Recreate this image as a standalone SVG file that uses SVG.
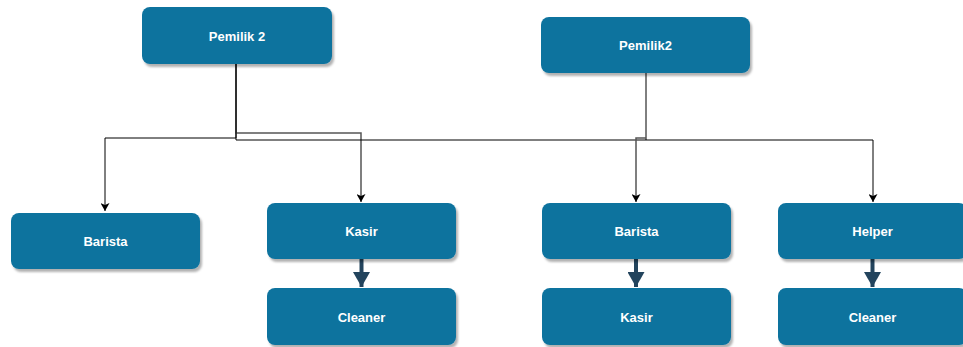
<svg xmlns="http://www.w3.org/2000/svg" width="963" height="347" viewBox="0 0 963 347">
<style>
.box{fill:#10739E;filter:url(#sh)}
.lbl{fill:#fff;font-family:"Liberation Sans",Arial,sans-serif;font-weight:bold;font-size:13px;text-anchor:middle;dominant-baseline:central}
.ln{fill:none;stroke:#000;stroke-width:1}
.gr{fill:none;stroke:#555;stroke-width:1.5}
.thick{fill:none;stroke:#23445D;stroke-width:4}
</style>
<defs>
<filter id="sh" x="-10%" y="-10%" width="130%" height="140%">
<feDropShadow dx="2" dy="3" stdDeviation="1.2" flood-color="#000" flood-opacity="0.3"/>
</filter>
<marker id="a" viewBox="0 0 8 9" refX="8" refY="4.5" markerWidth="8" markerHeight="9" markerUnits="userSpaceOnUse" orient="auto">
<path d="M0,0 L8,4.5 L0,9 L2,4.5 Z" fill="#000"/>
</marker>
<marker id="b" viewBox="0 0 15 17" refX="15" refY="8.5" markerWidth="15" markerHeight="17" markerUnits="userSpaceOnUse" orient="auto">
<path d="M0,0 L15,8.5 L0,17 Z" fill="#23445D"/>
</marker>
</defs>
<g id="connectors">
<path class="ln" d="M236,64 V138 H105 V211" marker-end="url(#a)"/>
<path class="gr" d="M236,64 V133 H361 V202" marker-end="url(#a)"/>
<path class="ln" d="M236,64 V140 H873 V202" marker-end="url(#a)"/>
<path class="ln" d="M646,73 V140"/>
<path class="gr" d="M646,138 H636 V202" marker-end="url(#a)"/>
<path class="thick" d="M361.5,259 V287" marker-end="url(#b)"/>
<path class="thick" d="M636,259 V287" marker-end="url(#b)"/>
<path class="thick" d="M872.5,259 V287" marker-end="url(#b)"/>
</g>
<g id="pemilik-2"><rect class="box" x="142" y="7" width="190" height="57" rx="8"/><text class="lbl" x="237" y="36">Pemilik 2</text></g>
<g id="pemilik2"><rect class="box" x="541" y="17" width="209" height="56" rx="8"/><text class="lbl" x="645.5" y="45">Pemilik2</text></g>
<g id="barista-left"><rect class="box" x="11" y="213" width="189" height="56" rx="8"/><text class="lbl" x="105.5" y="241">Barista</text></g>
<g id="kasir-left"><rect class="box" x="267" y="203" width="189" height="56" rx="8"/><text class="lbl" x="361.5" y="231">Kasir</text></g>
<g id="cleaner-left"><rect class="box" x="267" y="288" width="189" height="57" rx="8"/><text class="lbl" x="361.5" y="317">Cleaner</text></g>
<g id="barista-right"><rect class="box" x="542" y="203" width="189" height="56" rx="8"/><text class="lbl" x="636.5" y="231">Barista</text></g>
<g id="kasir-right"><rect class="box" x="542" y="288" width="189" height="57" rx="8"/><text class="lbl" x="636.5" y="317">Kasir</text></g>
<g id="helper"><rect class="box" x="778" y="203" width="189" height="56" rx="8"/><text class="lbl" x="872.5" y="231">Helper</text></g>
<g id="cleaner-right"><rect class="box" x="778" y="288" width="189" height="57" rx="8"/><text class="lbl" x="872.5" y="317">Cleaner</text></g>
</svg>
